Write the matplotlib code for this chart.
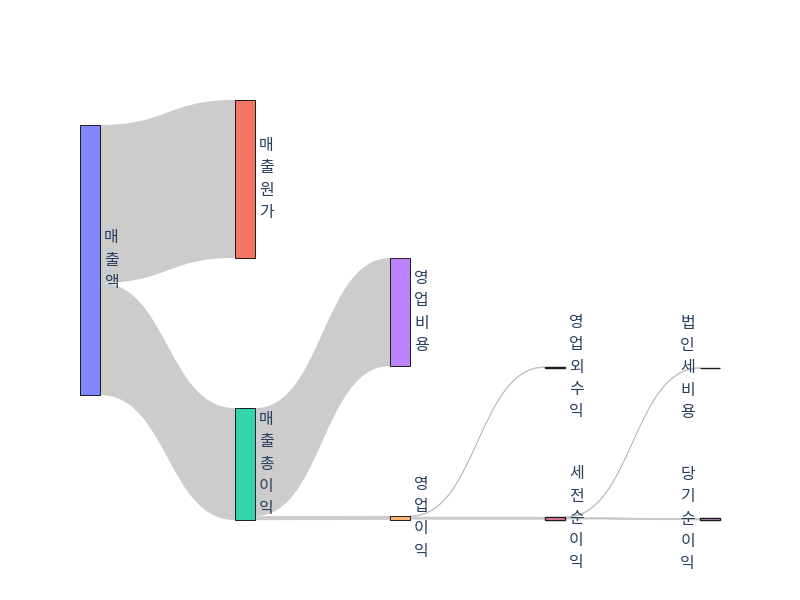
import matplotlib.pyplot as plt
from matplotlib.path import Path
from matplotlib.patches import PathPatch, Rectangle

plt.rcParams['font.family'] = ['Noto Sans CJK KR', 'DejaVu Sans']

# data
labels = ['매출액', '매출원가', '매출총이익', '영업비용', '영업이익',
          '영업외수익', '세전순이익', '법인세비용', '당기순이익']
sources = [0, 0, 2, 2, 4, 4, 6, 6]
targets = [1, 2, 3, 4, 5, 6, 7, 8]
values = [58.5, 41.5, 40.0, 1.5, 0.3, 1.1, 0.3, 0.5]

# layout (like plotly node.x / node.y)
node_col = [0, 1, 1, 2, 2, 3, 3, 4, 4]
node_yc = [0.381, 0.188, 0.867, 0.505, 0.995, 0.636, 0.996, 0.638, 0.998]
node_colors = ['#8088fb', '#f27762', '#33d6ab', '#bc82fb', '#ffb47b',
               '#47dcf5', '#ff85a8', '#c5ed99', '#ffacff']
x0, x1, y0, y1 = 80, 720, 100, 520   # plot domain in px
node_w = 20
ncol = max(node_col) + 1

n = len(labels)
inflow = [0.0] * n
outflow = [0.0] * n
for s, t, v in zip(sources, targets, values):
    outflow[s] += v
    inflow[t] += v
node_val = [max(a, b) for a, b in zip(inflow, outflow)]
scale = 270 / max(node_val)

nx = [x0 + c / (ncol - 1) * (x1 - x0 - node_w) for c in node_col]
nh = [v * scale for v in node_val]
ny = [y0 + yc * (y1 - y0) - h / 2 for yc, h in zip(node_yc, nh)]

fig = plt.figure(figsize=(8, 6), dpi=100)
ax = fig.add_axes([0, 0, 1, 1])
ax.set_xlim(0, 800)
ax.set_ylim(600, 0)
ax.axis('off')

# stacking offsets of links on each node
order = sorted(range(len(values)), key=lambda i: node_yc[targets[i]])
src_off = list(ny)
link_src = {}
for i in order:
    s = sources[i]
    link_src[i] = src_off[s]
    src_off[s] += values[i] * scale
order = sorted(range(len(values)), key=lambda i: node_yc[sources[i]])
tgt_off = list(ny)
link_tgt = {}
for i in order:
    t = targets[i]
    link_tgt[i] = tgt_off[t]
    tgt_off[t] += values[i] * scale

for i, (s, t, v) in enumerate(zip(sources, targets, values)):
    xs = nx[s] + node_w
    xt = nx[t]
    xm = (xs + xt) / 2
    w = v * scale
    ys, yt = link_src[i], link_tgt[i]
    verts = [(xs, ys), (xm, ys), (xm, yt), (xt, yt),
             (xt, yt + w),
             (xm, yt + w), (xm, ys + w), (xs, ys + w),
             (xs, ys)]
    codes = [Path.MOVETO, Path.CURVE4, Path.CURVE4, Path.CURVE4,
             Path.LINETO,
             Path.CURVE4, Path.CURVE4, Path.CURVE4,
             Path.CLOSEPOLY]
    ax.add_patch(PathPatch(Path(verts, codes), facecolor='#cccccc',
                           edgecolor='#b8b8b8', lw=0.4 if w < 2 else 0))

for i in range(n):
    thin = nh[i] < 3
    ax.add_patch(Rectangle((nx[i], ny[i]), node_w, nh[i],
                           facecolor=node_colors[i], edgecolor='#1a1a1a',
                           lw=1.0 if thin else 0.7))
    last = node_col[i] == ncol - 1
    ax.text(nx[i] - 5 if last else nx[i] + node_w + 4, ny[i] + nh[i] / 2,
            '\n'.join(labels[i]), ha='right' if last else 'left', va='center',
            fontsize=11.5, color='#2a3f5f', linespacing=1.4)

fig.savefig('out.png', dpi=100)
